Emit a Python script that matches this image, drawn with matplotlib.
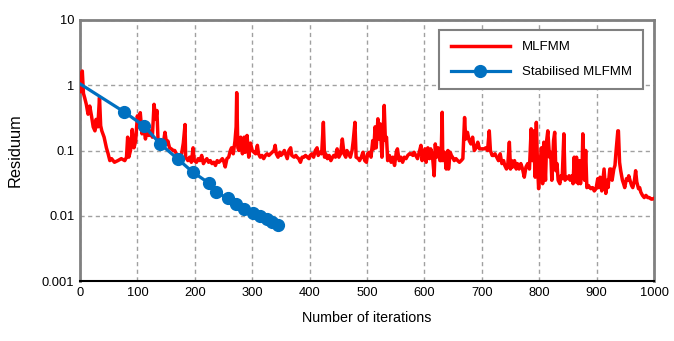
import numpy as np
from matplotlib import pyplot as plt
from matplotlib.ticker import FixedLocator, FixedFormatter, NullLocator

plt.rcParams['font.family'] = ['Liberation Sans', 'DejaVu Sans']

# residual history, standard MLFMM
it_mlfmm = [0, 2, 4, 6, 8, 11, 14, 17, 20, 23, 26, 28, 31, 34, 36, 38, 42, 46, 49, 52,
            55, 60, 66, 72, 78, 81, 83, 85, 88, 91, 94, 97, 100, 102, 105, 108, 111, 114, 117, 120,
            123, 126, 129, 132, 134, 136, 139, 142, 145, 148, 151, 153, 156, 159, 162, 165, 168, 171, 174, 177,
            180, 183, 184, 188, 191, 194, 197, 199, 203, 206, 209, 212, 215, 218, 221, 224, 227, 230, 233, 236,
            239, 242, 245, 248, 250, 253, 256, 259, 262, 264, 267, 270, 272, 273, 275, 277, 280, 283, 286, 288,
            291, 294, 297, 300, 303, 306, 309, 311, 314, 317, 320, 323, 326, 329, 332, 335, 338, 340, 342, 345,
            348, 350, 353, 356, 359, 361, 364, 367, 369, 373, 376, 378, 381, 384, 387, 390, 393, 396, 399, 401,
            404, 407, 410, 413, 415, 418, 421, 424, 426, 428, 431, 434, 437, 440, 442, 445, 448, 451, 454, 457,
            460, 463, 465, 468, 471, 474, 476, 479, 481, 485, 487, 490, 493, 496, 499, 501, 504, 507, 510, 512,
            514, 516, 519, 521, 523, 526, 528, 530, 532, 534, 536, 539, 542, 545, 548, 551, 553, 556, 559, 562,
            565, 568, 571, 574, 577, 580, 582, 585, 588, 591, 594, 596, 598, 601, 603, 606, 609, 611, 614, 617,
            619, 621, 624, 627, 629, 631, 632, 635, 638, 641, 642, 645, 647, 649, 652, 655, 658, 661, 664, 667,
            670, 672, 675, 678, 681, 684, 687, 690, 693, 696, 699, 702, 704, 707, 710, 713, 715, 718, 721, 723,
            726, 729, 732, 735, 738, 740, 743, 745, 748, 750, 752, 754, 757, 760, 762, 765, 768, 771, 774, 777,
            780, 783, 786, 788, 790, 793, 795, 797, 799, 801, 804, 806, 808, 811, 813, 815, 818, 820, 822, 825,
            827, 829, 831, 833, 836, 838, 840, 843, 845, 847, 850, 852, 854, 857, 859, 861, 863, 865, 868, 870,
            872, 875, 876, 879, 881, 883, 886, 888, 890, 893, 896, 899, 902, 904, 906, 909, 911, 913, 916, 918,
            920, 923, 925, 927, 930, 932, 934, 937, 938, 940, 942, 945, 947, 949, 952, 954, 956, 959, 961, 963,
            966, 968, 970, 973, 975, 977, 980, 983, 986, 989, 992, 995, 997, 1000]
res_mlfmm = [0.8, 1.1, 1.65, 0.75, 0.65, 0.51, 0.36, 0.48, 0.34, 0.23, 0.20, 0.30, 0.23, 0.65, 0.24, 0.20, 0.16, 0.11, 0.089, 0.070,
             0.075, 0.066, 0.070, 0.075, 0.070, 0.079, 0.16, 0.079, 0.10, 0.21, 0.11, 0.14, 0.34, 0.23, 0.38, 0.18, 0.23, 0.15, 0.21, 0.17,
             0.20, 0.16, 0.51, 0.30, 0.41, 0.14, 0.12, 0.126, 0.126, 0.19, 0.126, 0.14, 0.11, 0.106, 0.10, 0.10, 0.089, 0.079, 0.084, 0.089,
             0.13, 0.25, 0.079, 0.070, 0.079, 0.066, 0.11, 0.070, 0.066, 0.075, 0.070, 0.084, 0.063, 0.070, 0.075, 0.066, 0.070, 0.063, 0.066, 0.059,
             0.070, 0.066, 0.070, 0.075, 0.070, 0.056, 0.075, 0.079, 0.10, 0.11, 0.089, 0.14, 0.23, 0.77, 0.11, 0.10, 0.16, 0.089, 0.16, 0.094,
             0.17, 0.079, 0.13, 0.10, 0.094, 0.089, 0.12, 0.089, 0.079, 0.084, 0.075, 0.084, 0.089, 0.084, 0.089, 0.094, 0.10, 0.12, 0.089, 0.079,
             0.094, 0.084, 0.089, 0.10, 0.084, 0.075, 0.10, 0.11, 0.084, 0.079, 0.084, 0.079, 0.075, 0.066, 0.079, 0.079, 0.084, 0.079, 0.075, 0.084,
             0.089, 0.079, 0.10, 0.11, 0.084, 0.094, 0.089, 0.27, 0.079, 0.089, 0.075, 0.084, 0.070, 0.079, 0.084, 0.079, 0.106, 0.079, 0.089, 0.15,
             0.089, 0.079, 0.10, 0.089, 0.079, 0.10, 0.14, 0.27, 0.079, 0.075, 0.070, 0.079, 0.094, 0.070, 0.066, 0.089, 0.094, 0.079, 0.142, 0.106,
             0.23, 0.11, 0.306, 0.15, 0.256, 0.079, 0.18, 0.49, 0.142, 0.16, 0.070, 0.084, 0.066, 0.079, 0.059, 0.094, 0.106, 0.070, 0.079, 0.066,
             0.079, 0.075, 0.084, 0.089, 0.089, 0.084, 0.094, 0.084, 0.075, 0.094, 0.12, 0.070, 0.089, 0.106, 0.066, 0.11, 0.075, 0.106, 0.084, 0.041,
             0.126, 0.079, 0.11, 0.070, 0.070, 0.385, 0.070, 0.094, 0.052, 0.10, 0.052, 0.094, 0.084, 0.079, 0.070, 0.075, 0.070, 0.066, 0.070, 0.075,
             0.32, 0.15, 0.19, 0.142, 0.126, 0.16, 0.10, 0.11, 0.134, 0.106, 0.106, 0.106, 0.106, 0.11, 0.10, 0.20, 0.10, 0.084, 0.084, 0.089,
             0.079, 0.070, 0.089, 0.063, 0.070, 0.059, 0.052, 0.056, 0.134, 0.052, 0.070, 0.056, 0.070, 0.052, 0.063, 0.052, 0.063, 0.052, 0.039, 0.056,
             0.063, 0.052, 0.215, 0.070, 0.20, 0.039, 0.27, 0.063, 0.026, 0.056, 0.11, 0.031, 0.134, 0.035, 0.142, 0.20, 0.079, 0.094, 0.035, 0.142,
             0.19, 0.049, 0.063, 0.035, 0.031, 0.041, 0.037, 0.18, 0.035, 0.039, 0.037, 0.041, 0.035, 0.041, 0.031, 0.079, 0.033, 0.079, 0.031, 0.070,
             0.031, 0.070, 0.18, 0.035, 0.10, 0.027, 0.029, 0.027, 0.026, 0.027, 0.024, 0.026, 0.037, 0.027, 0.039, 0.024, 0.035, 0.052, 0.022, 0.035,
             0.027, 0.052, 0.052, 0.035, 0.052, 0.059, 0.10, 0.20, 0.20, 0.066, 0.049, 0.035, 0.031, 0.027, 0.037, 0.035, 0.041, 0.033, 0.029, 0.027,
             0.035, 0.049, 0.033, 0.026, 0.027, 0.023, 0.0205, 0.019, 0.0205, 0.019, 0.019, 0.018, 0.018, 0.0185]

# residual history, stabilised MLFMM
it_stab = [0, 77, 112, 139, 170, 196, 224, 237, 257, 271, 286, 301, 314, 325, 334, 345]
res_stab = [1.05, 0.39, 0.236, 0.128, 0.0746, 0.047, 0.0319, 0.0232, 0.0184, 0.0154,
            0.0127, 0.0112, 0.0099, 0.0088, 0.0080, 0.0071]

yticks = [0.001, 0.01, 0.1, 1, 10]
ylabels = ['0.001', '0.01', '0.1', '1', '10']
xticks = list(range(0, 1001, 100))

fig = plt.figure(figsize=(6.74, 3.41), dpi=100)
ax = fig.add_axes([80/674, 1-281/341, 574/674, 261/341])

ax.plot(it_mlfmm, res_mlfmm, color='#ff0000', lw=2.5, label='MLFMM', zorder=3)
ax.plot(it_stab, res_stab, color='#0070c0', lw=2.3, marker='o', ms=8.5,
        markevery=list(range(1, len(it_stab))), label='Stabilised MLFMM', zorder=4)

ax.set_yscale('log')
ax.set_xlim(0, 1000)
ax.set_ylim(0.001, 10)
ax.yaxis.set_major_locator(FixedLocator(yticks))
ax.yaxis.set_major_formatter(FixedFormatter(ylabels))
ax.yaxis.set_minor_locator(NullLocator())
ax.set_xticks(xticks)
ax.tick_params(length=0, labelsize=9.3, pad=4)

ax.grid(True, ls=(0, (3, 2.5)), color='#a0a0a0', lw=1)
for s in ['left', 'top', 'right']:
    ax.spines[s].set_color('#808080')
    ax.spines[s].set_linewidth(2)
ax.spines['bottom'].set_color('black')
ax.spines['bottom'].set_linewidth(1.5)

ax.set_xlabel('Number of iterations', fontsize=10.3, labelpad=9)
ax.set_ylabel('Residuum', fontsize=11.8, labelpad=14)

leg = ax.legend(loc='upper right', bbox_to_anchor=(0.981, 0.962), borderaxespad=0,
                fancybox=False, framealpha=1, edgecolor='#808080', fontsize=9.5,
                handlelength=4.5, handletextpad=0.9, borderpad=0.85, labelspacing=0.95)
leg.get_frame().set_linewidth(1.5)

plt.savefig('out.png', dpi=100)
